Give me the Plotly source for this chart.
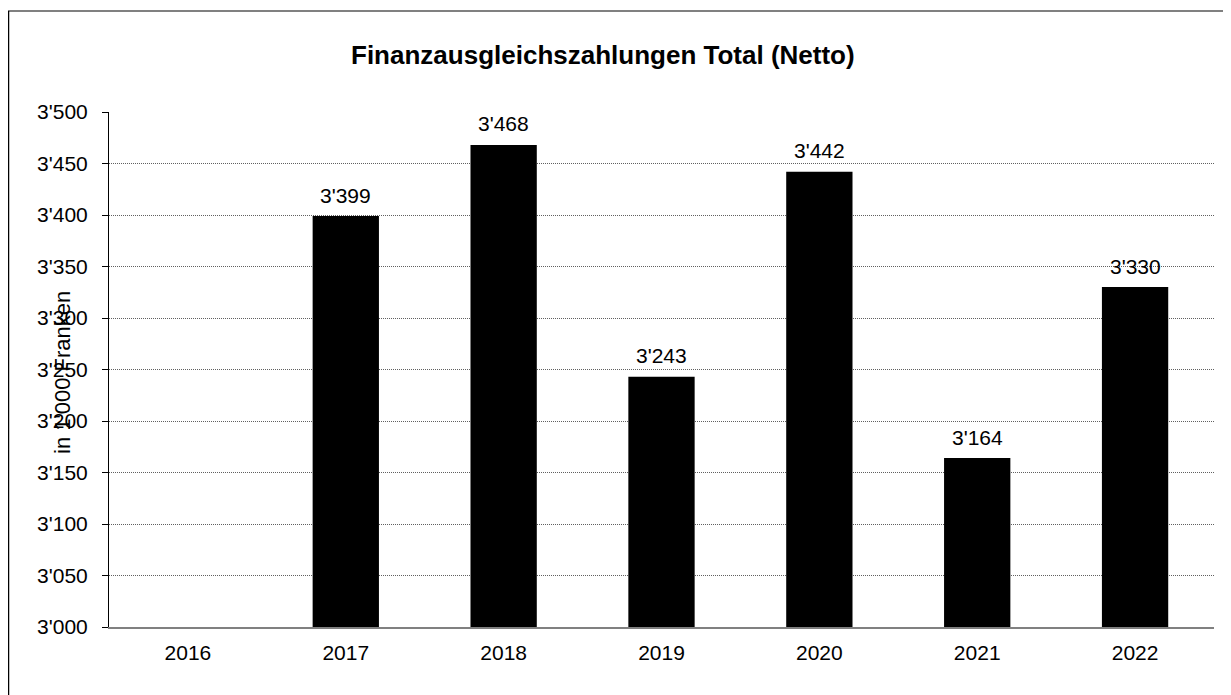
import plotly.graph_objects as go

# Finanzausgleichszahlungen, in 1'000 Franken
years = ["2016", "2017", "2018", "2019", "2020", "2021", "2022"]
values = [None, 3399, 3468, 3243, 3442, 3164, 3330]

y_ticks = [3000, 3050, 3100, 3150, 3200, 3250, 3300, 3350, 3400, 3450, 3500]

# the page has an 8px body margin, so the figure is shrunk by that much
OFF = 8
W, H = 1231 - OFF, 695 - OFF
M_L, M_R, M_T, M_B = 109 - OFF, 17, 112 - OFF, 68
PW = W - M_L - M_R
PH = H - M_T - M_B


def px_x(x):
    """page pixel -> paper x"""
    return (x - OFF - M_L) / PW


def px_y(y):
    """page pixel -> paper y"""
    return (H + OFF - M_B - y) / PH


FONT = "Liberation Sans, Arial, sans-serif"
FS = 21

fig = go.Figure()

fig.add_trace(go.Bar(x=years,
                     y=values,
                     marker=dict(color="#000000", line=dict(width=0)),
                     hoverinfo="x+y"))

# value labels above the bars (x given as category index)
for i, val in enumerate(values):
    if val is None:
        continue
    fig.add_annotation(x=i, y=val,
                       text="{:,}".format(val).replace(",", "'"),
                       xref="x", yref="y",
                       xanchor="center", yanchor="middle",
                       yshift=21,
                       showarrow=False,
                       font=dict(family=FONT, size=FS, color="#000000"))

fig.update_layout(width=W,
                  height=H,
                  margin=dict(l=M_L, r=M_R, t=M_T, b=M_B),
                  paper_bgcolor="white",
                  plot_bgcolor="white",
                  separators=".'",
                  bargap=0.58,
                  showlegend=False,
                  font=dict(family=FONT, size=FS, color="#000000"))

fig.update_xaxes(type="category",
                 range=[-0.5, len(years) - 0.5],
                 showline=True,
                 linecolor="#808080",
                 linewidth=1.5,
                 ticks="",
                 ticklabelstandoff=6,
                 showgrid=False,
                 tickfont=dict(family=FONT, size=FS))

fig.update_yaxes(range=[3000, 3500],
                 tickvals=y_ticks,
                 tickformat=",d",
                 showline=True,
                 linecolor="#000000",
                 linewidth=1,
                 ticks="outside",
                 ticklen=6,
                 tickcolor="#000000",
                 ticklabelstandoff=10,
                 showgrid=True,
                 gridcolor="#606060",
                 griddash="1px,1px",
                 gridwidth=1,
                 zeroline=False,
                 tickfont=dict(family=FONT, size=FS))

# title
fig.add_annotation(text="<b>Finanzausgleichszahlungen Total (Netto)</b>",
                   xref="paper", yref="paper",
                   x=px_x(603), y=px_y(55),
                   xanchor="center", yanchor="middle",
                   showarrow=False,
                   font=dict(family=FONT, size=26, color="#000000"))

# y axis title, drawn over the tick labels as in the original
fig.add_annotation(text="in 1'000 Franken",
                   xref="paper", yref="paper",
                   x=px_x(62), y=px_y(373),
                   xanchor="center", yanchor="middle",
                   textangle=-90,
                   showarrow=False,
                   font=dict(family=FONT, size=22, color="#000000"))

# outer chart frame
fig.add_shape(type="line", xref="paper", yref="paper",
              x0=px_x(OFF), x1=px_x(1240), y0=px_y(11), y1=px_y(11),
              line=dict(color="#808080", width=2))
fig.add_shape(type="line", xref="paper", yref="paper",
              x0=px_x(OFF + 0.5), x1=px_x(OFF + 0.5), y0=px_y(11), y1=px_y(710),
              line=dict(color="#000000", width=1.5))

fig.write_html("out.html")
